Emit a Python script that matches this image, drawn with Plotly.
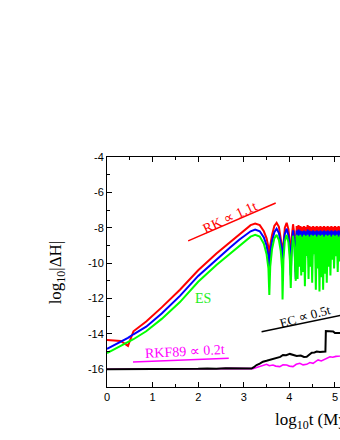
import plotly.graph_objects as go

# ---- shared time axis for RK / RKF-like curves (log10 t) ----
t_curve = [0, 0.3, 0.46, 0.58, 0.86, 1.2, 1.6, 2.0, 2.4, 2.7, 2.9, 3.05, 3.15, 3.25,
           3.35, 3.44, 3.5, 3.54, 3.56, 3.58, 3.62, 3.67, 3.72, 3.77, 3.81, 3.84,
           3.85, 3.87, 3.9, 3.94, 3.98, 4.01, 4.03, 4.05, 4.08, 4.11, 4.13, 4.14,
           4.16, 4.18, 4.20, 4.22, 4.24, 4.26, 4.28, 4.30, 4.32, 4.34, 4.36, 4.38,
           4.40, 4.42, 4.44, 4.46, 4.48, 4.50, 4.52, 4.54, 4.56, 4.58, 4.60, 4.62,
           4.64, 4.66, 4.68, 4.70, 4.72, 4.74, 4.76, 4.78, 4.80, 4.82, 4.84, 4.86,
           4.88, 4.90, 4.92, 4.94, 4.96, 4.98, 5.00, 5.02, 5.04, 5.06, 5.08, 5.10,
           5.12, 5.14, 5.16, 5.18, 5.20]

rk_red = [-14.35, -14.4, -14.68, -13.85, -13.3, -12.5, -11.5, -10.4, -9.45, -8.8, -8.35,
          -8.05, -7.85, -7.76, -7.85, -8.2, -8.6, -9.1, -9.9, -9.0, -8.4, -7.9, -7.72,
          -7.95, -8.5, -9.1, -9.6, -8.7, -8.0, -7.72, -8.1, -8.9, -10.2, -8.6, -7.8,
          -8.4, -9.3, -10.5,
          -7.9, -9.8, -7.85, -9.4, -7.9, -10.0, -7.95, -9.2, -7.9, -9.6, -7.95, -9.0,
          -7.85, -9.3, -7.9, -8.9, -7.95, -9.2, -7.9, -8.8, -7.95, -9.1, -7.9, -8.7,
          -7.95, -9.0, -7.9, -8.8, -7.95, -9.2, -7.9, -8.7, -7.95, -9.0, -7.9, -8.8,
          -7.95, -9.1, -7.9, -8.7, -7.95, -8.9, -7.9, -8.8, -7.95, -9.0, -7.9, -8.7,
          -7.95, -8.9, -7.9, -8.8, -7.95]

rk_blue = [-14.85, -14.45, -14.22, -14.02, -13.59, -12.85, -11.85, -10.72, -9.78, -9.12,
           -8.68, -8.38, -8.2, -8.1, -8.2, -8.55, -9.0, -9.6, -10.4, -9.4, -8.75, -8.25,
           -8.05, -8.3, -8.85, -9.5, -10.2, -9.1, -8.35, -8.05, -8.45, -9.3, -10.7, -9.0,
           -8.15, -8.75, -9.7, -10.9,
           -8.15, -10.2, -8.1, -9.8, -8.15, -10.4, -8.2, -9.6, -8.15, -10.0, -8.2, -9.4,
           -8.1, -9.7, -8.15, -9.3, -8.2, -9.6, -8.15, -9.2, -8.2, -9.5, -8.15, -9.1,
           -8.2, -9.4, -8.15, -9.2, -8.2, -9.6, -8.15, -9.1, -8.2, -9.4, -8.15, -9.2,
           -8.2, -9.5, -8.15, -9.1, -8.2, -9.3, -8.15, -9.2, -8.2, -9.4, -8.15, -9.1,
           -8.2, -9.3, -8.15, -9.2, -8.2]

es_green = [-15.08, -14.7, -14.48, -14.3, -13.85, -13.15, -12.2, -11.05, -10.1, -9.45,
            -9.0, -8.7, -8.5, -8.4, -8.5, -8.9, -9.5, -10.3, -11.8, -10.2, -9.2, -8.6,
            -8.4, -8.7, -9.3, -10.3, -12.05, -9.8, -8.75, -8.4, -8.85, -9.8, -11.4, -9.5,
            -8.45, -9.1, -10.0, -11.0,
            -8.4, -10.9, -8.45, -10.2, -8.4, -10.7, -8.5, -10.5, -8.4, -11.3, -8.45, -9.6,
            -8.4, -10.9, -8.5, -10.2, -8.4, -11.1, -8.45, -9.5, -8.4, -11.5, -8.5, -10.3,
            -8.4, -11.6, -8.45, -10.8, -8.4, -11.5, -8.5, -10.6, -8.4, -11.1, -8.45, -10.2,
            -8.4, -10.7, -8.5, -9.8, -8.4, -10.3, -8.45, -9.6, -8.4, -10.5, -8.5, -9.9,
            -8.4, -10.6, -8.45, -10.0, -8.4]

# ---- EC (black) ----
t_ec = [0, 0.5, 1.0, 1.5, 2.0, 2.2, 2.4, 2.6, 2.8, 3.0, 3.17, 3.22, 3.28, 3.35, 3.42,
        3.5, 3.57, 3.65, 3.72, 3.8, 3.86, 3.93, 4.01, 4.08, 4.16, 4.25, 4.32, 4.38,
        4.44, 4.49, 4.55, 4.6, 4.67, 4.74, 4.79, 4.80, 4.85, 4.96, 5.0, 5.2]
ec_black = [-16.0, -16.0, -15.99, -15.99, -15.97, -15.95, -15.97, -15.94, -15.96, -15.95,
            -15.96, -15.88, -15.76, -15.68, -15.57, -15.52, -15.47, -15.45, -15.38, -15.3,
            -15.19, -15.2, -15.13, -15.17, -15.25, -15.22, -15.3, -15.29, -15.15, -15.06,
            -15.05, -15.0, -15.02, -15.0, -15.0, -13.84, -13.84, -13.86, -13.95, -13.95]

# ---- RKF89 (magenta) ----
t_rkf = [0, 0.5, 1.0, 1.5, 2.0, 2.4, 2.7, 2.9, 3.1, 3.2, 3.28, 3.35, 3.42, 3.5, 3.56,
         3.64, 3.7, 3.79, 3.86, 3.94, 4.0, 4.08, 4.15, 4.23, 4.3, 4.38, 4.45, 4.52,
         4.58, 4.63, 4.7, 4.76, 4.82, 4.89, 4.95, 5.02, 5.11, 5.2]
rkf_magenta = [-16.0, -16.0, -16.0, -16.0, -15.98, -15.97, -15.95, -15.96, -15.94, -15.96,
               -15.9, -15.85, -15.78, -15.72, -15.8, -15.76, -15.82, -15.85, -15.74, -15.76,
               -15.82, -15.85, -15.72, -15.66, -15.75, -15.72, -15.62, -15.66, -15.55,
               -15.47, -15.53, -15.45, -15.38, -15.29, -15.32, -15.27, -15.25, -15.22]

# ---- guide lines ----
guide_rk_t = [1.78, 3.70]
guide_rk_y = [-8.74, -6.60]
guide_ec_t = [3.39, 5.6]
guide_ec_y = [-13.88, -12.7]
guide_rkf_t = [0.57, 2.67]
guide_rkf_y = [-15.59, -15.38]

y_ticks = [-4, -6, -8, -10, -12, -14, -16]
y_tick_text = ["-4", "-6", "-8", "-10", "-12", "-14", "-16"]
x_ticks = [0, 1, 2, 3, 4, 5]
x_tick_text = ["0", "1", "2", "3", "4", "5"]

serif = "Liberation Serif, Times New Roman, serif"
sans = "Liberation Sans, Arial, sans-serif"

fig = go.Figure()
fig.add_trace(go.Scatter(x=t_curve, y=rk_red, mode="lines", line=dict(color="#ff0000", width=2)))
fig.add_trace(go.Scatter(x=t_curve, y=rk_blue, mode="lines", line=dict(color="#0000ff", width=2)))
fig.add_trace(go.Scatter(x=t_curve, y=es_green, mode="lines", line=dict(color="#00ff00", width=2)))
fig.add_trace(go.Scatter(x=t_rkf, y=rkf_magenta, mode="lines", line=dict(color="#ff00ff", width=1.6)))
fig.add_trace(go.Scatter(x=t_ec, y=ec_black, mode="lines", line=dict(color="#000000", width=2)))
fig.add_trace(go.Scatter(x=guide_rk_t, y=guide_rk_y, mode="lines", line=dict(color="#ff0000", width=1.5)))
fig.add_trace(go.Scatter(x=guide_ec_t, y=guide_ec_y, mode="lines", line=dict(color="#000000", width=1.5)))
fig.add_trace(go.Scatter(x=guide_rkf_t, y=guide_rkf_y, mode="lines", line=dict(color="#ff00ff", width=1.5)))

annotations = [
    dict(x=2.69, y=-7.43, text="RK \u221d 1.1t", textangle=-25, font=dict(family=serif, size=14, color="#ff0000")),
    dict(x=2.1, y=-12.0, text="ES", font=dict(family=serif, size=14, color="#22ee22")),
    dict(x=4.34, y=-13.03, text="EC \u221d 0.5t", textangle=-16, font=dict(family=serif, size=13, color="#000000")),
    dict(x=1.70, y=-15.02, text="RKF89 \u221d 0.2t", textangle=-3, font=dict(family=serif, size=14, color="#ff00ff")),
    dict(x=0.713, y=-0.148, xref="paper", yref="paper", xanchor="left", yanchor="middle",
         text="log<sub>10</sub>t (Myr)", font=dict(family=serif, size=17, color="#000000")),
    dict(x=-0.213, y=0.5, xref="paper", yref="paper", xanchor="center", yanchor="middle",
         textangle=-90, text="log<sub>10</sub>|\u0394H|", font=dict(family=serif, size=17, color="#000000")),
]
for a in annotations:
    a.setdefault("showarrow", False)

fig.update_layout(
    width=340, height=440,
    margin=dict(l=107, r=0, t=157, b=53),
    paper_bgcolor="white", plot_bgcolor="white",
    showlegend=False,
    annotations=annotations,
    xaxis=dict(range=[0, 5.11], tickvals=x_ticks, ticktext=x_tick_text,
               ticks="inside", ticklen=5, tickwidth=1, tickcolor="#000",
               minor=dict(dtick=0.5, tick0=0, ticks="inside", ticklen=3, tickcolor="#000"),
               showline=True, linecolor="#000", linewidth=1, mirror="ticks",
               showgrid=False, zeroline=False,
               tickfont=dict(family=sans, size=11, color="#000")),
    yaxis=dict(range=[-17, -4], tickvals=y_ticks, ticktext=y_tick_text,
               ticks="inside", ticklen=5, tickwidth=1, tickcolor="#000",
               minor=dict(dtick=1, tick0=-17, ticks="inside", ticklen=3, tickcolor="#000"),
               showline=True, linecolor="#000", linewidth=1, mirror=False,
               showgrid=False, zeroline=False,
               tickfont=dict(family=sans, size=11, color="#000")),
)

# remove the default page margin so the 340x440 figure fills the window exactly
fig.write_html(
    "out.html",
    config={"displayModeBar": False},
    post_script="document.documentElement.style.margin='0';document.body.style.margin='0';"
                "document.body.style.overflow='hidden';",
)
